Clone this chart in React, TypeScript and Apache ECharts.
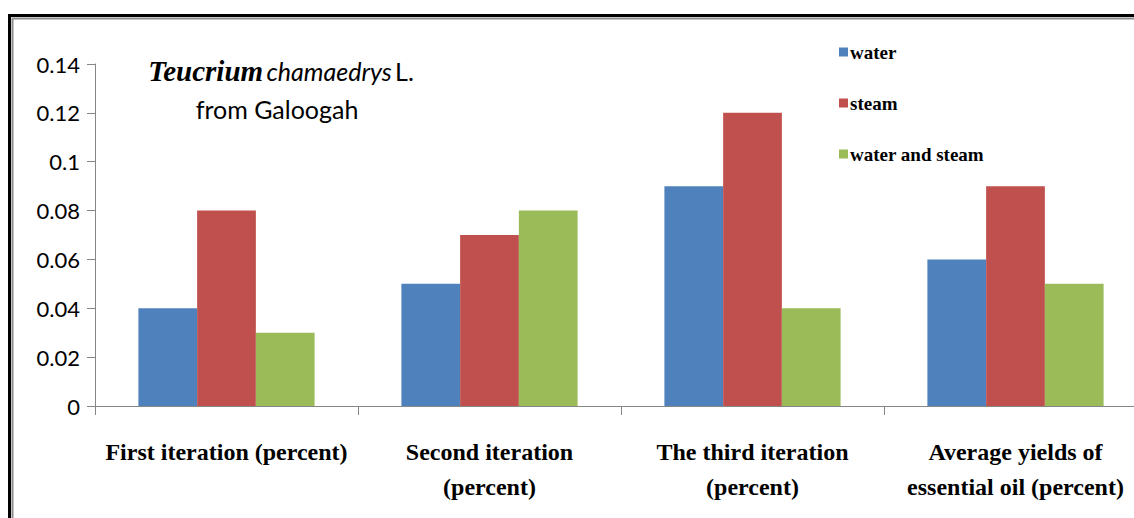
import React, { useEffect, useRef } from "react";
import * as echarts from "echarts";

const categories = [
  "First iteration (percent)",
  "Second iteration\n(percent)",
  "The third iteration\n(percent)",
  "Average yields of\nessential oil (percent)",
];
const seriesNames = ["water", "steam", "water and steam"];
const waterValues = [0.04, 0.05, 0.09, 0.06];
const steamValues = [0.08, 0.07, 0.12, 0.09];
const waterSteamValues = [0.03, 0.08, 0.04, 0.05];
const colors = ["#4F81BD", "#C0504D", "#9BBB59"];

export default function App() {
  const ref = useRef<HTMLDivElement>(null);
  useEffect(() => {
    document.body.style.margin = "0";
    document.body.style.overflow = "hidden";
    const chart = echarts.init(ref.current!, null, { renderer: "svg" });
    const serif = "'Liberation Serif', 'Times New Roman', serif";
    const sans = "Lato, 'Open Sans', sans-serif";
    chart.setOption({
      animation: false,
      backgroundColor: "#ffffff",
      grid: { left: 95, top: 64, bottom: 112, right: 13, containLabel: false },
      legend: {
        orient: "vertical",
        left: 834,
        top: 37,
        itemWidth: 9,
        itemHeight: 9,
        itemGap: 31,
        icon: "rect",
        data: seriesNames,
        textStyle: {
          fontFamily: serif,
          fontWeight: "bold",
          fontSize: 19,
          color: "#000",
          lineHeight: 20,
          padding: [0, 0, 0, -3],
        },
      },
      xAxis: {
        type: "category",
        data: categories,
        axisLine: { lineStyle: { color: "#868686", width: 1 } },
        axisTick: { show: true, length: 9, lineStyle: { color: "#868686" } },
        axisLabel: {
          interval: 0,
          margin: 28,
          fontFamily: serif,
          fontWeight: "bold",
          fontSize: 24,
          lineHeight: 35,
          color: "#000",
        },
        splitLine: { show: false },
      },
      yAxis: {
        type: "value",
        min: 0,
        max: 0.14,
        interval: 0.02,
        axisLine: { show: true, lineStyle: { color: "#868686", width: 1 } },
        axisTick: { show: true, length: 8, lineStyle: { color: "#868686" } },
        axisLabel: {
          margin: 15,
          fontFamily: sans,
          fontSize: 22,
          color: "#000",
          formatter: (v: number) => String(Math.round(v * 100) / 100),
        },
        splitLine: { show: false },
      },
      series: [
        { name: seriesNames[0], type: "bar", data: waterValues, itemStyle: { color: colors[0] }, barGap: "0%", barCategoryGap: "33%" },
        { name: seriesNames[1], type: "bar", data: steamValues, itemStyle: { color: colors[1] }, barGap: "0%", barCategoryGap: "33%" },
        { name: seriesNames[2], type: "bar", data: waterSteamValues, itemStyle: { color: colors[2] }, barGap: "0%", barCategoryGap: "33%" },
      ],
      graphic: [
        {
          type: "rect",
          silent: true,
          shape: { x: 9.5, y: 15.5, width: 1300, height: 700 },
          style: { fill: "none", stroke: "#000", lineWidth: 3 },
        },
        {
          type: "rect",
          silent: true,
          shape: { x: 12.5, y: 18.5, width: 1300, height: 700 },
          style: { fill: "none", stroke: "#8c8c8c", lineWidth: 2 },
        },
        {
          type: "text",
          x: 281,
          y: 71,
          style: {
            text: "{a|Teucrium} {b|chamaedrys} {c|L.}",
            align: "center",
            verticalAlign: "middle",
            rich: {
              a: { fontFamily: serif, fontWeight: "bold", fontStyle: "italic", fontSize: 29, fill: "#000" },
              b: { fontFamily: sans, fontStyle: "italic", fontSize: 25, fill: "#000" },
              c: { fontFamily: sans, fontSize: 25, fill: "#000" },
            },
          },
        },
        {
          type: "text",
          x: 277,
          y: 109,
          style: {
            text: "from Galoogah",
            align: "center",
            verticalAlign: "middle",
            fontFamily: sans,
            fontSize: 25,
            fill: "#000",
          },
        },
      ],
    });
    return () => chart.dispose();
  }, []);
  return <div ref={ref} style={{ width: 1160, height: 518 }} />;
}
